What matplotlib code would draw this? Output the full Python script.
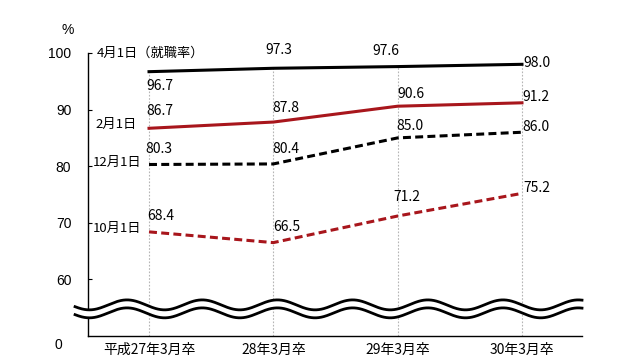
import numpy as np
import matplotlib
matplotlib.use("Agg")
import matplotlib.pyplot as plt

plt.rcParams['font.family'] = ['Noto Sans CJK JP', 'DejaVu Sans']

# data
years = ["平成27年3月卒", "28年3月卒", "29年3月卒", "30年3月卒"]
apr1 = [96.7, 97.3, 97.6, 98.0]
feb1 = [86.7, 87.8, 90.6, 91.2]
dec1 = [80.3, 80.4, 85.0, 86.0]
oct1 = [68.4, 66.5, 71.2, 75.2]
names = ["4月1日（就職率）", "2月1日", "12月1日", "10月1日"]

red = '#A8161C'

fig = plt.figure(figsize=(6.39, 3.62), dpi=100)
ax = fig.add_axes([0.1377, 0.0718, 0.7731, 0.7818])
x = np.arange(len(years))

# vertical guide lines up to the top series
ax.vlines(x, 50, apr1, colors='#B5B5B5', linestyles=(0, (1.5, 1.5)), lw=0.8, zorder=1)

series = [apr1, feb1, dec1, oct1]
colors = ['black', red, 'black', red]
styles = ['-', '-', '--', '--']
for vals, c, ls in zip(series, colors, styles):
    ln, = ax.plot(x, vals, color=c, lw=2.2, ls=ls, zorder=3)
    if ls == '--':
        ln.set_dashes([2.6, 1.4])

# value labels (offsets in pixels, left/baseline of text)
offsets = [
    [(-3, -18), (-8, 14), (-25, 12), (1, -3)],
    [(-3, 13), (-1, 10), (0, 8), (0, 2)],
    [(-4, 12), (-1, 11), (-1, 8), (0, 1)],
    [(-2, 12), (0, 12), (-4, 15), (1, 1)],
]
for vals, offs in zip(series, offsets):
    for xi, v, (dx, dy) in zip(x, vals, offs):
        ax.annotate(f"{v:.1f}", (xi, v), xytext=(dx, dy), textcoords='offset pixels',
                    ha='left', va='baseline', fontsize=10, zorder=5)

# series names
name_pos = [(-0.418, 99.3), (-0.434, 86.75), (-0.45, 80.0), (-0.45, 68.4)]
for nm, (nx, ny) in zip(names, name_pos):
    ax.text(nx, ny, nm, ha='left', va='baseline', fontsize=9.5, zorder=5)

ax.set_xlim(-0.491, 3.483)
ax.set_ylim(50, 100)
ax.set_yticks([60, 70, 80, 90, 100])
ax.set_yticklabels(["60", "70", "80", "90", "100"], family=['Liberation Sans Narrow', 'Liberation Sans'])
ax.tick_params(axis='y', direction='in', length=3, pad=12, labelsize=10)
ax.set_xticks(x)
ax.set_xticklabels(years, fontsize=10)
ax.tick_params(axis='x', length=0, pad=5)
ax.spines['top'].set_visible(False)
ax.spines['right'].set_visible(False)
ax.spines['left'].set_linewidth(1)
ax.spines['bottom'].set_linewidth(1)

ax.text(-0.042, 1.081, "%", transform=ax.transAxes, ha='center', va='center', fontsize=10,
        family=['Liberation Sans'])
ax.text(-0.053, -0.032, "0", transform=ax.transAxes, ha='right', va='center', fontsize=10,
        family=['Liberation Sans'])

# axis break (double wavy line)
wx = np.linspace(-0.595, 3.483, 600)
phase = 2 * np.pi * (wx + 0.177) / 0.605
up = 55.5 + 0.88 * np.cos(phase)
lo = up - 1.41
ax.fill_between(wx, lo, up, color='white', zorder=6, clip_on=False, lw=0)
ax.plot(wx, up, color='black', lw=2.0, zorder=7, clip_on=False)
ax.plot(wx, lo, color='black', lw=2.0, zorder=7, clip_on=False)

fig.savefig("out.png", dpi=100)
